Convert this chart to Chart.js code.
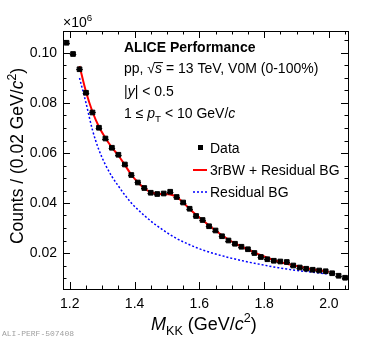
<!DOCTYPE html>
<html>
<head>
<meta charset="utf-8">
<script src="https://cdn.jsdelivr.net/npm/chart.js@4"></script>
<style>
  html, body { margin: 0; padding: 0; background: #fff; }
  #wrap { width: 382px; height: 340px; }
</style>
</head>
<body>
<div id="wrap"><canvas id="mkk" width="382" height="340"></canvas></div>
<script>
// K+K- invariant mass spectrum (counts x 10^6 per 0.02 GeV/c^2)

const massBins = [
  1.19, 1.21, 1.23, 1.25, 1.27, 1.29, 1.31, 1.33, 1.35, 1.37, 1.39,
  1.41, 1.43, 1.45, 1.47, 1.49, 1.51, 1.53, 1.55, 1.57, 1.59, 1.61,
  1.63, 1.65, 1.67, 1.69, 1.71, 1.73, 1.75, 1.77, 1.79, 1.81, 1.83,
  1.85, 1.87, 1.89, 1.91, 1.93, 1.95, 1.97, 1.99, 2.01, 2.03, 2.05
];
const counts = [
  0.1041, 0.0996, 0.0935, 0.0841, 0.0762, 0.0701, 0.0658, 0.0621, 0.0593, 0.0554, 0.0512,
  0.0482, 0.0460, 0.0441, 0.0436, 0.0438, 0.0445, 0.0424, 0.0402, 0.0377, 0.0348, 0.0332,
  0.0307, 0.0290, 0.0267, 0.0250, 0.0237, 0.0225, 0.0215, 0.0200, 0.0184, 0.0175, 0.0169,
  0.0166, 0.0164, 0.0150, 0.0142, 0.0137, 0.0133, 0.0130, 0.0127, 0.0119, 0.0109, 0.0101
];
const binHalfWidth = 0.01;

// fit curves, read at the bin centres
const fitMass = [
  1.23, 1.25, 1.27, 1.29, 1.31, 1.33, 1.35, 1.37, 1.39, 1.41, 1.43,
  1.45, 1.47, 1.49, 1.51, 1.53, 1.55, 1.57, 1.59, 1.61, 1.63, 1.65,
  1.67, 1.69, 1.71, 1.73, 1.75, 1.77, 1.79, 1.81, 1.83, 1.85, 1.87,
  1.89, 1.91, 1.93, 1.95, 1.97, 1.99, 2.00
];
const fitTotal = [
  0.0948, 0.0845, 0.0765, 0.0705, 0.0660, 0.0622, 0.0590, 0.0552, 0.0513, 0.0483, 0.0459,
  0.0443, 0.0437, 0.0436, 0.0434, 0.0424, 0.0402, 0.0376, 0.0353, 0.0332, 0.0310, 0.0290,
  0.0271, 0.0254, 0.0239, 0.0226, 0.0214, 0.0202, 0.0191, 0.0181, 0.0172, 0.0164, 0.0157,
  0.0151, 0.0145, 0.0140, 0.0135, 0.0131, 0.0127, 0.0125
];
const fitResidualBg = [
  0.0900, 0.0800, 0.0692, 0.0612, 0.0553, 0.0506, 0.0468, 0.0432, 0.0400, 0.0374, 0.0350,
  0.0328, 0.0308, 0.0290, 0.0273, 0.0258, 0.0245, 0.0233, 0.0222, 0.0212, 0.0204, 0.0196,
  0.0189, 0.0182, 0.0176, 0.0170, 0.0164, 0.0159, 0.0154, 0.0149, 0.0144, 0.0140, 0.0136,
  0.0132, 0.0129, 0.0126, 0.0123, 0.0120, 0.0117, 0.0116
];

const xTicks = [1.2, 1.4, 1.6, 1.8, 2.0];
const xTickLabels = ['1.2', '1.4', '1.6', '1.8', '2.0'];
const yTicks = [0.02, 0.04, 0.06, 0.08, 0.10];
const yTickLabels = ['0.02', '0.04', '0.06', '0.08', '0.10'];
const xMinorStep = 0.05;
const yMinorStep = 0.005;

const FONT = '"Liberation Sans", Arial, Helvetica, sans-serif';

const toPts = (xs, ys) => xs.map((x, i) => ({ x, y: ys[i] }));

// draw a line of text made of pieces: {t, i (italic), b (bold), sub, sup}
function richText(ctx, parts, x, y, size) {
  let cx = x;
  parts.forEach(p => {
    const s = (p.sub || p.sup) ? size * 0.7 : size;
    ctx.font = (p.i ? 'italic ' : '') + (p.b ? 'bold ' : '') + s + 'px ' + FONT;
    let dy = 0;
    if (p.sub) dy = size * 0.3;
    if (p.sup) dy = -size * 0.42;
    ctx.fillText(p.t, cx, y + dy);
    const w = ctx.measureText(p.t).width;
    if (p.over) {
      ctx.fillRect(cx - 1, y - size * 0.78, w + 2, 1);
    }
    cx += w;
  });
  return cx - x;
}
function richWidth(ctx, parts, size) {
  let w = 0;
  parts.forEach(p => {
    const s = (p.sub || p.sup) ? size * 0.7 : size;
    ctx.font = (p.i ? 'italic ' : '') + (p.b ? 'bold ' : '') + s + 'px ' + FONT;
    w += ctx.measureText(p.t).width;
  });
  return w;
}

// ROOT-like frame: inward ticks on all four sides
const framePlugin = {
  id: 'frame',
  afterDraw(chart) {
    const { ctx, chartArea: a, scales: { x, y } } = chart;
    ctx.save();
    ctx.strokeStyle = '#000';
    ctx.lineWidth = 1;
    ctx.strokeRect(Math.round(a.left) + 0.5, Math.round(a.top) + 0.5,
      Math.round(a.right - a.left), Math.round(a.bottom - a.top));
    ctx.beginPath();
    const major = 7, minor = 3.5;
    for (let v = Math.ceil(x.min / xMinorStep) * xMinorStep; v <= x.max + 1e-9; v += xMinorStep) {
      const isMajor = xTicks.some(t => Math.abs(t - v) < 1e-6);
      const len = isMajor ? major : minor;
      const px = Math.round(x.getPixelForValue(v)) + 0.5;
      ctx.moveTo(px, a.bottom); ctx.lineTo(px, a.bottom - len);
      ctx.moveTo(px, a.top); ctx.lineTo(px, a.top + len);
    }
    for (let v = Math.ceil(y.min / yMinorStep) * yMinorStep; v <= y.max + 1e-9; v += yMinorStep) {
      const isMajor = yTicks.some(t => Math.abs(t - v) < 1e-6);
      const len = isMajor ? major : minor;
      const py = Math.round(y.getPixelForValue(v)) + 0.5;
      ctx.moveTo(a.left, py); ctx.lineTo(a.left + len, py);
      ctx.moveTo(a.right, py); ctx.lineTo(a.right - len, py);
    }
    ctx.stroke();
    ctx.restore();
  }
};

// horizontal bin-width bars on the data points
const binBarsPlugin = {
  id: 'binBars',
  beforeDatasetsDraw(chart) {
    const { ctx, scales: { x, y } } = chart;
    ctx.save();
    ctx.strokeStyle = '#000';
    ctx.lineWidth = 1;
    ctx.beginPath();
    massBins.forEach((m, i) => {
      const py = Math.round(y.getPixelForValue(counts[i])) + 0.5;
      ctx.moveTo(x.getPixelForValue(Math.max(m - binHalfWidth, x.min)), py);
      ctx.lineTo(x.getPixelForValue(Math.min(m + binHalfWidth, x.max)), py);
    });
    ctx.stroke();
    ctx.restore();
  }
};

// labels, legend and axis titles
const labelsPlugin = {
  id: 'labels',
  afterDraw(chart) {
    const ctx = chart.ctx;
    ctx.save();
    ctx.fillStyle = '#000';
    ctx.textBaseline = 'alphabetic';
    ctx.textAlign = 'left';

    richText(ctx, [{ t: '\u00d710' }, { t: '6', sup: true }], 63, 27, 14);

    richText(ctx, [{ t: 'ALICE Performance', b: true }], 124, 52, 14);
    richText(ctx, [{ t: 'pp, \u221a' }, { t: 's', i: true, over: true },
      { t: ' = 13 TeV, V0M (0-100%)' }], 124, 73, 14);
    richText(ctx, [{ t: '|' }, { t: 'y', i: true }, { t: '| < 0.5' }], 124, 96, 14);
    richText(ctx, [{ t: '1 \u2264 ' }, { t: 'p', i: true }, { t: 'T', sub: true },
      { t: ' < 10 GeV/' }, { t: 'c', i: true }], 124, 118, 14);

    // legend
    ctx.fillRect(198, 145, 5, 5);
    richText(ctx, [{ t: 'Data' }], 210, 153, 14);
    ctx.strokeStyle = '#ff0000';
    ctx.lineWidth = 2;
    ctx.beginPath(); ctx.moveTo(193, 170); ctx.lineTo(207, 170); ctx.stroke();
    richText(ctx, [{ t: '3rBW + Residual BG' }], 210, 175, 14);
    ctx.strokeStyle = '#0000ff';
    ctx.lineWidth = 1.5;
    ctx.setLineDash([2, 2]);
    ctx.beginPath(); ctx.moveTo(193, 192); ctx.lineTo(207, 192); ctx.stroke();
    ctx.setLineDash([]);
    richText(ctx, [{ t: 'Residual BG' }], 210, 197, 14);

    // x title
    const xt = [{ t: 'M', i: true }, { t: 'KK', sub: true }, { t: ' (GeV/' }, { t: 'c', i: true },
      { t: '2', sup: true }, { t: ')' }];
    richText(ctx, xt, 151, 330, 18);

    // y title, rotated
    const yt = [{ t: 'Counts / (0.02 GeV/' }, { t: 'c', i: true }, { t: '2', sup: true }, { t: ')' }];
    const yw = richWidth(ctx, yt, 17.5);
    ctx.translate(23, 156);
    ctx.rotate(-Math.PI / 2);
    richText(ctx, yt, -yw / 2, 0, 17.5);
    ctx.setTransform(1, 0, 0, 1, 0, 0);

    ctx.fillStyle = '#a0a0a0';
    ctx.font = '8px "Liberation Mono", "DejaVu Sans Mono", monospace';
    ctx.fillText('ALI-PERF-507408', 2, 336);
    ctx.restore();
  }
};

new Chart(document.getElementById('mkk'), {
  type: 'scatter',
  data: {
    datasets: [
      {
        label: 'Residual BG',
        data: toPts(fitMass, fitResidualBg),
        showLine: true,
        borderColor: '#0000ff',
        borderWidth: 1.5,
        borderDash: [2, 2],
        pointRadius: 0,
        cubicInterpolationMode: 'monotone',
        order: 3
      },
      {
        label: '3rBW + Residual BG',
        data: toPts(fitMass, fitTotal),
        showLine: true,
        borderColor: '#ff0000',
        borderWidth: 2,
        pointRadius: 0,
        cubicInterpolationMode: 'monotone',
        order: 2
      },
      {
        label: 'Data',
        data: toPts(massBins, counts),
        pointStyle: 'rect',
        pointRadius: 3.3,
        borderWidth: 1,
        backgroundColor: '#000',
        borderColor: '#000',
        order: 1
      }
    ]
  },
  options: {
    responsive: false,
    animation: false,
    events: [],
    layout: { padding: { top: 31, right: 34, left: 0, bottom: 0 } },
    plugins: { legend: { display: false }, tooltip: { enabled: false } },
    scales: {
      x: {
        type: 'linear',
        min: 1.179,
        max: 2.059,
        grid: { display: false, drawTicks: false },
        border: { display: false },
        afterBuildTicks: s => { s.ticks = xTicks.map(v => ({ value: v })); },
        afterFit: s => { s.height = 51; },
        ticks: {
          color: '#000',
          font: { family: FONT, size: 14 },
          padding: 7,
          maxRotation: 0,
          callback: (v) => xTickLabels[xTicks.findIndex(t => Math.abs(t - v) < 1e-6)]
        }
      },
      y: {
        type: 'linear',
        min: 0.0056,
        max: 0.1088,
        grid: { display: false, drawTicks: false },
        border: { display: false },
        afterBuildTicks: s => { s.ticks = yTicks.map(v => ({ value: v })); },
        afterFit: s => { s.width = 63; },
        ticks: {
          color: '#000',
          font: { family: FONT, size: 14 },
          padding: 6,
          callback: (v) => yTickLabels[yTicks.findIndex(t => Math.abs(t - v) < 1e-6)]
        }
      }
    }
  },
  plugins: [framePlugin, binBarsPlugin, labelsPlugin]
});
</script>
</body>
</html>
